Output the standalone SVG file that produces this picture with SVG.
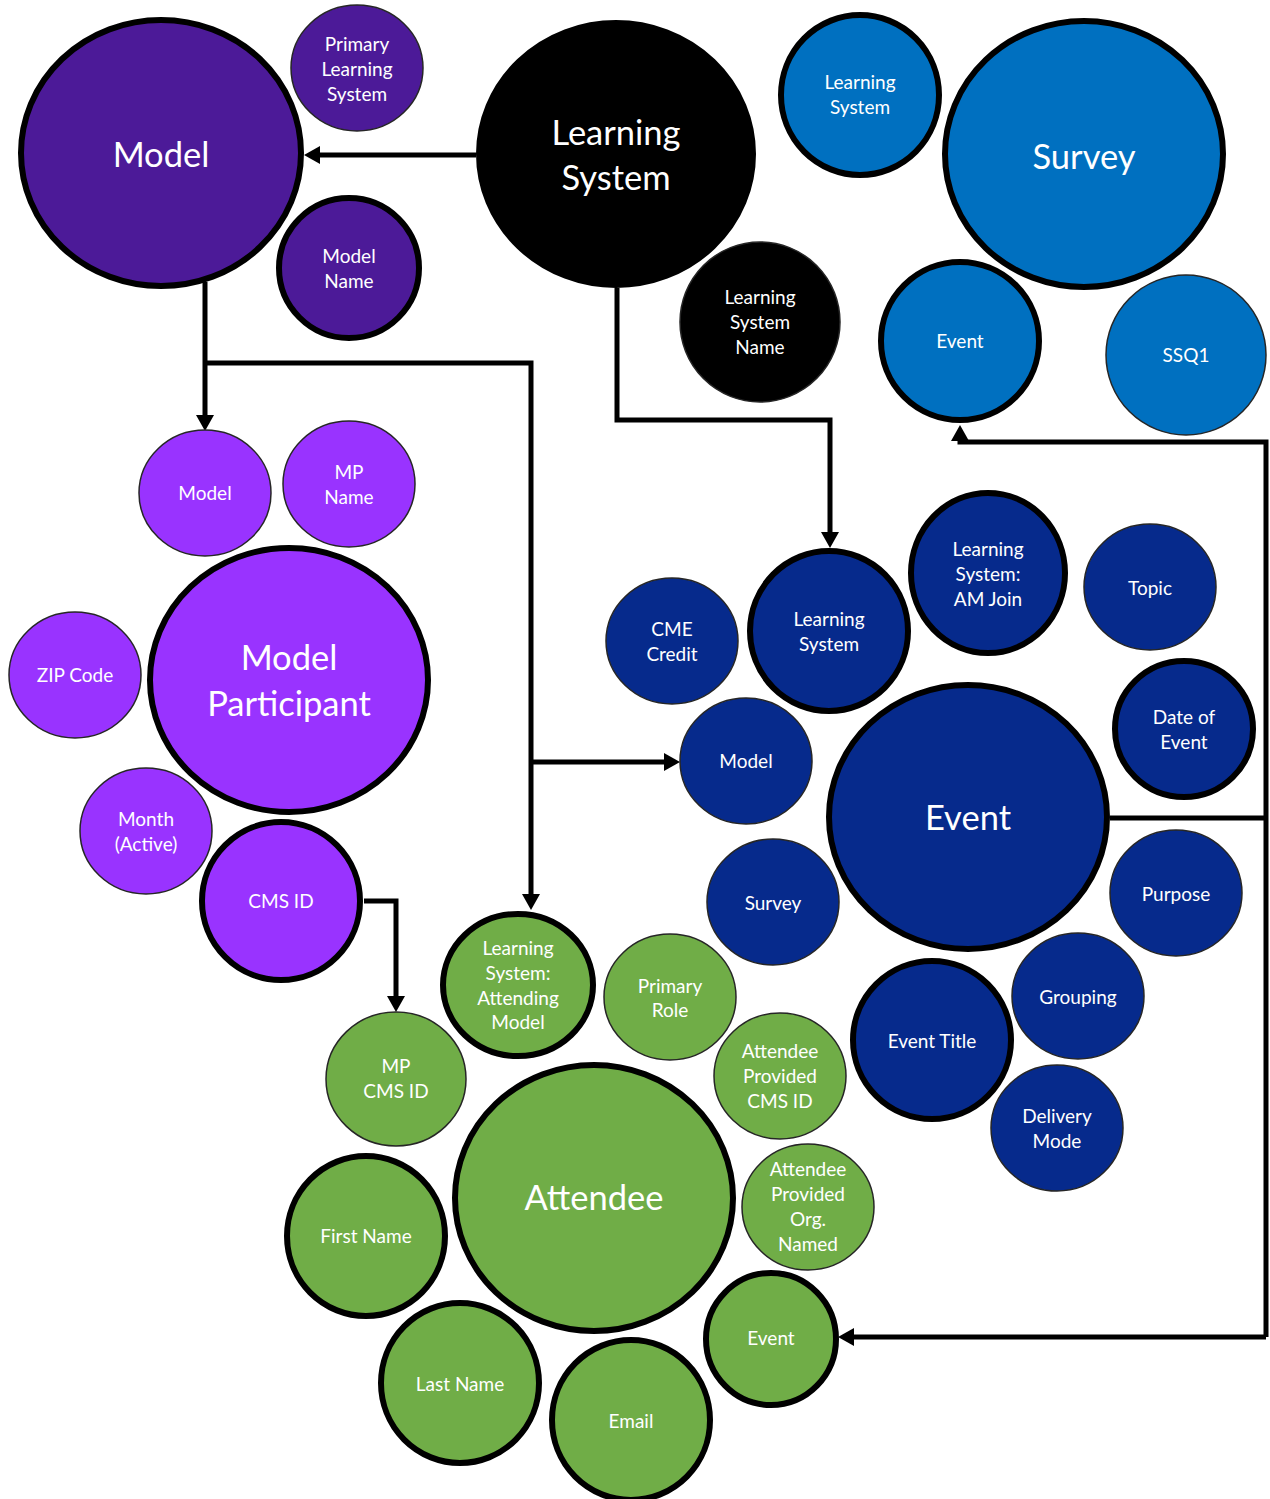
<svg xmlns="http://www.w3.org/2000/svg" width="1270" height="1499" viewBox="0 0 1270 1499">
  <style>
    .bg { fill: #ffffff; }
    .thick { stroke: #000000; stroke-width: 6; }
    .thin { stroke: #262626; stroke-width: 1.5; }
    .dpurple { fill: #4C1A98; }
    .lpurple { fill: #9933FF; }
    .black { fill: #000000; }
    .lblue { fill: #0070C0; }
    .dblue { fill: #062A8C; }
    .green { fill: #70AD47; }
    text { fill: #ffffff; font-family: Lato, "Open Sans", "Liberation Sans", sans-serif; text-anchor: middle; }
    .s { font-size: 19px; }
    .l { font-size: 34.5px; }
    .conn { fill: none; stroke: #000000; stroke-width: 5; stroke-linejoin: miter; }
  </style>
  <defs>
    <marker id="arrow" markerUnits="userSpaceOnUse" markerWidth="18" markerHeight="18" viewBox="0 0 16 18" refX="2" refY="9" orient="auto">
      <path d="M0,0 L16,9 L0,18 z" fill="#000000"/>
    </marker>
  </defs>
  <rect class="bg" x="0" y="0" width="1270" height="1499"/>

  <!-- connectors -->
  <g id="connectors">
    <path class="conn" d="M476,155 H318" marker-end="url(#arrow)"/>
    <path class="conn" d="M205,282 V417" marker-end="url(#arrow)"/>
    <path class="conn" d="M205,363 H531 V896" marker-end="url(#arrow)"/>
    <path class="conn" d="M531,762 H666" marker-end="url(#arrow)"/>
    <path class="conn" d="M617,288 V420 H830 V534" marker-end="url(#arrow)"/>
    <path class="conn" d="M364,901 H396 V998" marker-end="url(#arrow)"/>
    <path class="conn" d="M1110,818 H1266"/>
    <path class="conn" d="M1266,1337 V442 H960 V439" marker-end="url(#arrow)"/>
    <path class="conn" d="M1266,1337 H852" marker-end="url(#arrow)"/>
  </g>

  <!-- Model entity (dark purple) -->
  <g id="model">
    <ellipse class="dpurple thick" cx="161" cy="153" rx="140" ry="133"/>
    <text class="l" x="161" y="167">Model</text>
  </g>
  <g id="model-primary-learning-system">
    <ellipse class="dpurple thin" cx="357" cy="68" rx="66" ry="63"/>
    <text class="s" x="357" y="51">Primary</text>
    <text class="s" x="357" y="76">Learning</text>
    <text class="s" x="357" y="101">System</text>
  </g>
  <g id="model-name">
    <ellipse class="dpurple thick" cx="349" cy="268" rx="70" ry="70"/>
    <text class="s" x="349" y="263">Model</text>
    <text class="s" x="349" y="288">Name</text>
  </g>

  <!-- Learning System entity (black) -->
  <g id="learning-system">
    <ellipse class="black thick" cx="616" cy="154" rx="137" ry="131"/>
    <text class="l" x="616" y="145">Learning</text>
    <text class="l" x="616" y="190">System</text>
  </g>
  <g id="learning-system-name">
    <ellipse class="black thin" cx="760" cy="322" rx="80" ry="80"/>
    <text class="s" x="760" y="304">Learning</text>
    <text class="s" x="760" y="329">System</text>
    <text class="s" x="760" y="354">Name</text>
  </g>

  <!-- Survey entity (light blue) -->
  <g id="survey">
    <ellipse class="lblue thick" cx="1084" cy="154" rx="139" ry="133"/>
    <text class="l" x="1084" y="169">Survey</text>
  </g>
  <g id="survey-learning-system">
    <ellipse class="lblue thick" cx="860" cy="95" rx="79" ry="80"/>
    <text class="s" x="860" y="89">Learning</text>
    <text class="s" x="860" y="114">System</text>
  </g>
  <g id="survey-event">
    <ellipse class="lblue thick" cx="960" cy="341" rx="79" ry="79"/>
    <text class="s" x="960" y="348">Event</text>
  </g>
  <g id="survey-ssq1">
    <ellipse class="lblue thin" cx="1186" cy="355" rx="80" ry="80"/>
    <text class="s" x="1186" y="362">SSQ1</text>
  </g>

  <!-- Model Participant entity (light purple) -->
  <g id="model-participant">
    <ellipse class="lpurple thick" cx="289" cy="680" rx="139" ry="132"/>
    <text class="l" x="289" y="670">Model</text>
    <text class="l" x="289" y="716">Participant</text>
  </g>
  <g id="mp-model">
    <ellipse class="lpurple thin" cx="205" cy="493" rx="66" ry="63"/>
    <text class="s" x="205" y="500">Model</text>
  </g>
  <g id="mp-name">
    <ellipse class="lpurple thin" cx="349" cy="484" rx="66" ry="63"/>
    <text class="s" x="349" y="479">MP</text>
    <text class="s" x="349" y="504">Name</text>
  </g>
  <g id="mp-zip-code">
    <ellipse class="lpurple thin" cx="75" cy="675" rx="66" ry="63"/>
    <text class="s" x="75" y="682">ZIP Code</text>
  </g>
  <g id="mp-month-active">
    <ellipse class="lpurple thin" cx="146" cy="831" rx="66" ry="63"/>
    <text class="s" x="146" y="826">Month</text>
    <text class="s" x="146" y="851">(Active)</text>
  </g>
  <g id="mp-cms-id">
    <ellipse class="lpurple thick" cx="281" cy="901" rx="79" ry="79"/>
    <text class="s" x="281" y="908">CMS ID</text>
  </g>

  <!-- Event entity (dark blue) -->
  <g id="event">
    <ellipse class="dblue thick" cx="968" cy="817" rx="139" ry="132"/>
    <text class="l" x="968" y="830">Event</text>
  </g>
  <g id="event-cme-credit">
    <ellipse class="dblue thin" cx="672" cy="641" rx="66" ry="63"/>
    <text class="s" x="672" y="636">CME</text>
    <text class="s" x="672" y="661">Credit</text>
  </g>
  <g id="event-learning-system">
    <ellipse class="dblue thick" cx="829" cy="631" rx="79" ry="80"/>
    <text class="s" x="829" y="626">Learning</text>
    <text class="s" x="829" y="651">System</text>
  </g>
  <g id="event-am-join">
    <ellipse class="dblue thick" cx="988" cy="573" rx="77" ry="80"/>
    <text class="s" x="988" y="556">Learning</text>
    <text class="s" x="988" y="581">System:</text>
    <text class="s" x="988" y="606">AM Join</text>
  </g>
  <g id="event-topic">
    <ellipse class="dblue thin" cx="1150" cy="587" rx="66" ry="63"/>
    <text class="s" x="1150" y="595">Topic</text>
  </g>
  <g id="event-date">
    <ellipse class="dblue thick" cx="1184" cy="729" rx="69" ry="68"/>
    <text class="s" x="1184" y="724">Date of</text>
    <text class="s" x="1184" y="749">Event</text>
  </g>
  <g id="event-model">
    <ellipse class="dblue thin" cx="746" cy="761" rx="66" ry="63"/>
    <text class="s" x="746" y="768">Model</text>
  </g>
  <g id="event-survey">
    <ellipse class="dblue thin" cx="773" cy="902" rx="66" ry="63"/>
    <text class="s" x="773" y="910">Survey</text>
  </g>
  <g id="event-purpose">
    <ellipse class="dblue thin" cx="1176" cy="893" rx="66" ry="63"/>
    <text class="s" x="1176" y="901">Purpose</text>
  </g>
  <g id="event-grouping">
    <ellipse class="dblue thin" cx="1078" cy="996" rx="66" ry="63"/>
    <text class="s" x="1078" y="1004">Grouping</text>
  </g>
  <g id="event-title">
    <ellipse class="dblue thick" cx="932" cy="1040" rx="79" ry="79"/>
    <text class="s" x="932" y="1048">Event Title</text>
  </g>
  <g id="event-delivery-mode">
    <ellipse class="dblue thin" cx="1057" cy="1128" rx="66" ry="63"/>
    <text class="s" x="1057" y="1123">Delivery</text>
    <text class="s" x="1057" y="1148">Mode</text>
  </g>

  <!-- Attendee entity (green) -->
  <g id="attendee">
    <ellipse class="green thick" cx="594" cy="1198" rx="139" ry="133"/>
    <text class="l" x="594" y="1210">Attendee</text>
  </g>
  <g id="att-attending-model">
    <ellipse class="green thick" cx="518" cy="985" rx="75" ry="71"/>
    <text class="s" x="518" y="955">Learning</text>
    <text class="s" x="518" y="980">System:</text>
    <text class="s" x="518" y="1005">Attending</text>
    <text class="s" x="518" y="1029">Model</text>
  </g>
  <g id="att-primary-role">
    <ellipse class="green thin" cx="670" cy="997" rx="66" ry="63"/>
    <text class="s" x="670" y="993">Primary</text>
    <text class="s" x="670" y="1017">Role</text>
  </g>
  <g id="att-mp-cms-id">
    <ellipse class="green thin" cx="396" cy="1079" rx="70" ry="67"/>
    <text class="s" x="396" y="1073">MP</text>
    <text class="s" x="396" y="1098">CMS ID</text>
  </g>
  <g id="att-provided-cms-id">
    <ellipse class="green thin" cx="780" cy="1076" rx="66" ry="63"/>
    <text class="s" x="780" y="1058">Attendee</text>
    <text class="s" x="780" y="1083">Provided</text>
    <text class="s" x="780" y="1108">CMS ID</text>
  </g>
  <g id="att-provided-org">
    <ellipse class="green thin" cx="808" cy="1207" rx="66" ry="63"/>
    <text class="s" x="808" y="1176">Attendee</text>
    <text class="s" x="808" y="1201">Provided</text>
    <text class="s" x="808" y="1226">Org.</text>
    <text class="s" x="808" y="1251">Named</text>
  </g>
  <g id="att-first-name">
    <ellipse class="green thick" cx="366" cy="1236" rx="79" ry="80"/>
    <text class="s" x="366" y="1243">First Name</text>
  </g>
  <g id="att-event">
    <ellipse class="green thick" cx="771" cy="1339" rx="65" ry="66"/>
    <text class="s" x="771" y="1345">Event</text>
  </g>
  <g id="att-last-name">
    <ellipse class="green thick" cx="460" cy="1383" rx="79" ry="80"/>
    <text class="s" x="460" y="1391">Last Name</text>
  </g>
  <g id="att-email">
    <ellipse class="green thick" cx="631" cy="1420" rx="79" ry="80"/>
    <text class="s" x="631" y="1428">Email</text>
  </g>
</svg>
